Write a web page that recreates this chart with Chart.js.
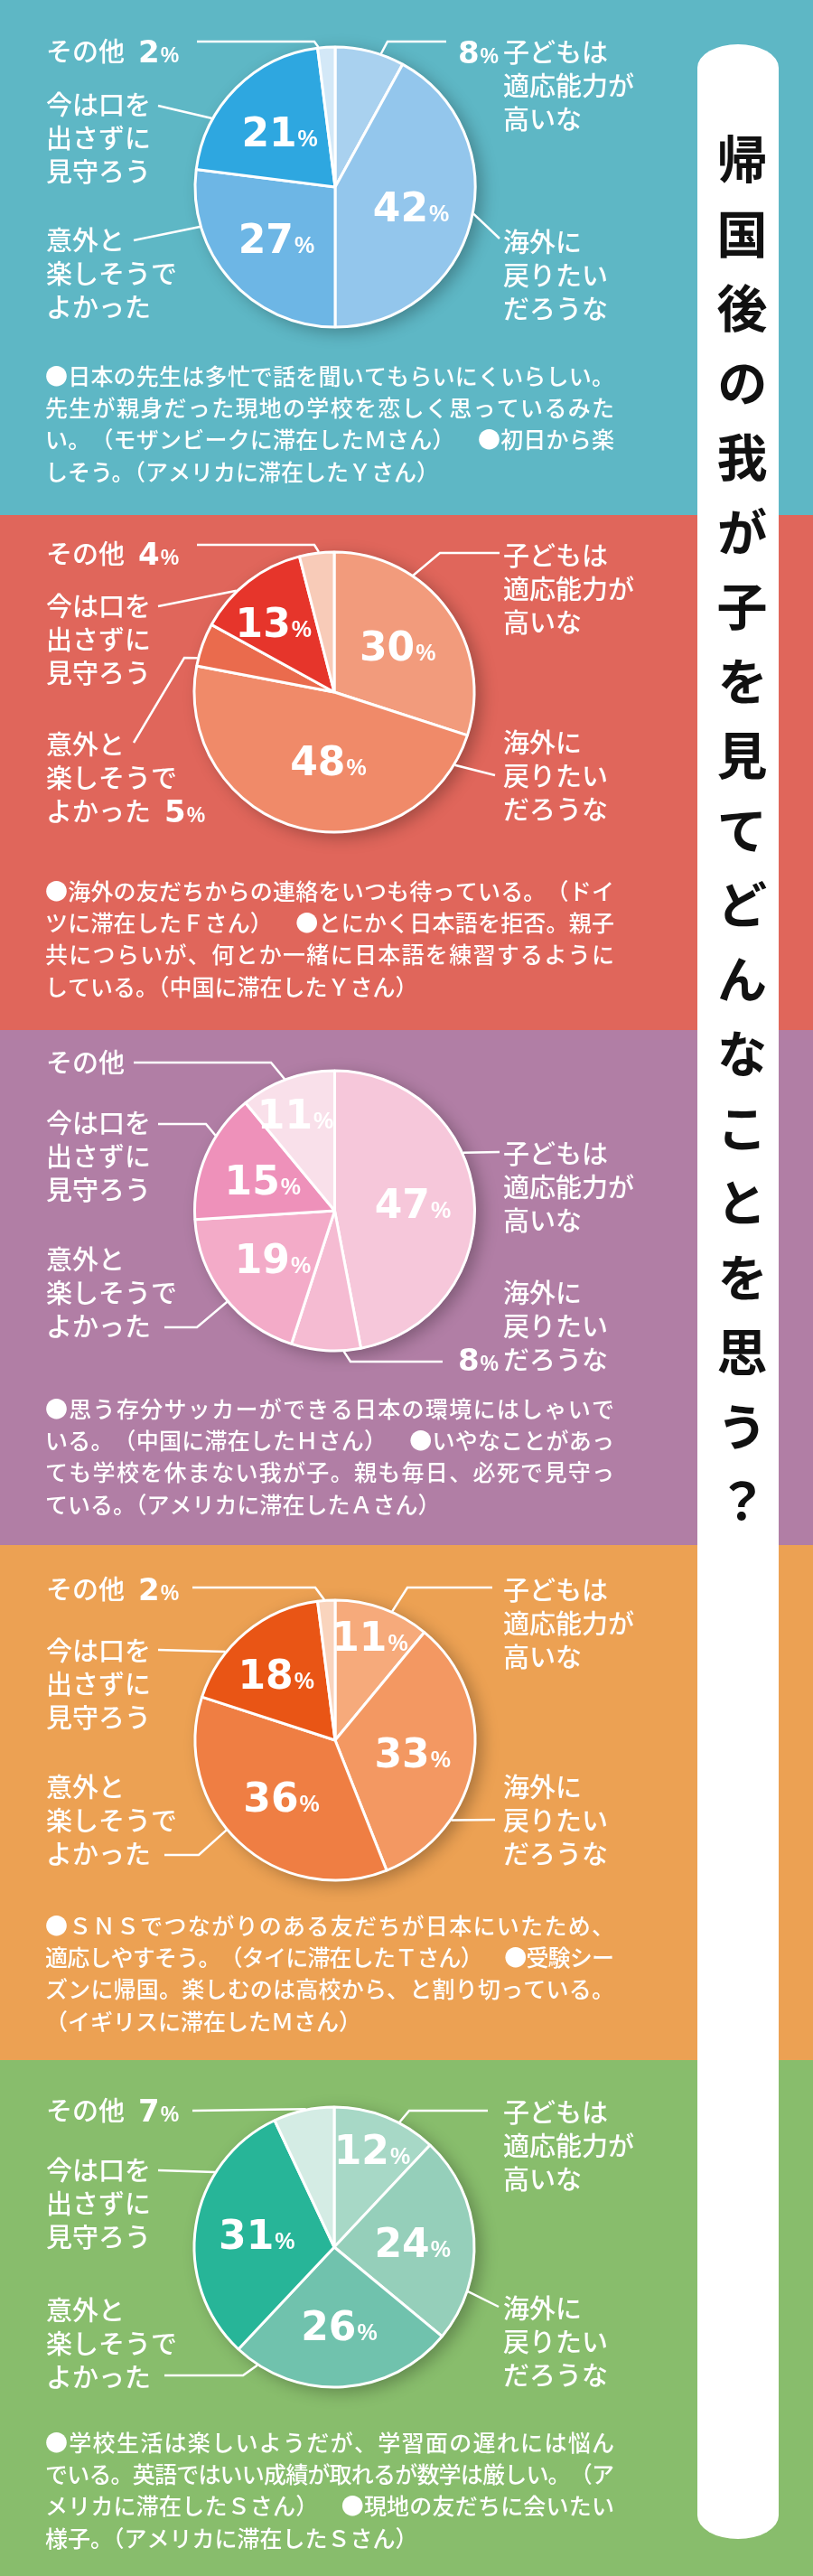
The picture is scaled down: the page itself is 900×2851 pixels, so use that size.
<!DOCTYPE html>
<html>
<head>
<meta charset="utf-8">
<script src="https://cdn.jsdelivr.net/npm/chart.js@4.4.1/dist/chart.umd.min.js"></script>
<style>
  body { margin: 0; width: 900px; height: 2851px; position: relative; overflow: hidden; }
  .panel { position: absolute; left: 0; width: 900px; }
  .panel canvas { position: absolute; left: 0; top: 0; }
  #title {
    position: absolute; left: 772px; top: 49px; width: 90px; height: 2761px;
    background: #fff; border-radius: 45px / 26px; box-sizing: border-box;
    padding-top: 99px; writing-mode: vertical-rl; line-height: 90px;
    font: bold 56px "Noto Sans CJK JP"; letter-spacing: 26.5px; color: #111;
  }
</style>
</head>
<body>
<div id="panels"></div>
<div id="title">帰国後の我が子を見てどんなことを思う？</div>
<script>
// categories, clockwise from 12 o'clock
const categoryLines = [
  ["子どもは", "適応能力が", "高いな"],
  ["海外に", "戻りたい", "だろうな"],
  ["意外と", "楽しそうで", "よかった"],
  ["今は口を", "出さずに", "見守ろう"],
  ["その他"]
];
const categories = categoryLines.map((l) => l.join(""));

// percentages per panel
const tealValues = [8, 42, 27, 21, 2];
const redValues = [30, 48, 5, 13, 4];
const purpleValues = [47, 8, 19, 15, 11];
const orangeValues = [11, 33, 36, 18, 2];
const greenValues = [12, 24, 26, 31, 7];

const tealComment = [
  "●日本の先生は多忙で話を聞いてもらいにくいらしい。",
  "先生が親身だった現地の学校を恋しく思っているみた",
  "い。（モザンビークに滞在したＭさん）　●初日から楽",
  "しそう。（アメリカに滞在したＹさん）"
];
const redComment = [
  "●海外の友だちからの連絡をいつも待っている。（ドイ",
  "ツに滞在したＦさん）　●とにかく日本語を拒否。親子",
  "共につらいが、何とか一緒に日本語を練習するように",
  "している。（中国に滞在したＹさん）"
];
const purpleComment = [
  "●思う存分サッカーができる日本の環境にはしゃいで",
  "いる。（中国に滞在したＨさん）　●いやなことがあっ",
  "ても学校を休まない我が子。親も毎日、必死で見守っ",
  "ている。（アメリカに滞在したＡさん）"
];
const orangeComment = [
  "●ＳＮＳでつながりのある友だちが日本にいたため、",
  "適応しやすそう。（タイに滞在したＴさん）　●受験シー",
  "ズンに帰国。楽しむのは高校から、と割り切っている。",
  "（イギリスに滞在したＭさん）"
];
const greenComment = [
  "●学校生活は楽しいようだが、学習面の遅れには悩ん",
  "でいる。英語ではいい成績が取れるが数学は厳しい。（ア",
  "メリカに滞在したＳさん）　●現地の友だちに会いたい",
  "様子。（アメリカに滞在したＳさん）"
];

// layout (positions inside each panel)
const panels = [
  {
    top: 0, height: 570, bg: "#5eb7c5", values: tealValues, comment: tealComment, commentY: 416,
    colors: ["#a9d1ef", "#93c6ec", "#6db6e5", "#2ea7e0", "#d3e8f7"],
    cx: 371, cy: 207,
    labels: [
      { x: 557, y: 58, pct: { line: 0, pos: "pre" }, leader: [[494, 46], [429, 46], [422, 59]] },
      { x: 557, y: 268, leader: [[553, 264], [526, 237]] },
      { x: 51, y: 266, leader: [[148, 266], [218, 252]] },
      { x: 51, y: 116, leader: [[175, 117], [233, 130]] },
      { x: 51, y: 57, pct: { line: 0, pos: "post" }, leader: [[218, 46], [348, 46], [353, 57]] }
    ],
    nudge: {}
  },
  {
    top: 570, height: 570, bg: "#e0665b", values: redValues, comment: redComment, commentY: 416,
    colors: ["#f29b7c", "#f08a69", "#ea6b4d", "#e6352b", "#f8cbb8"],
    cx: 370, cy: 196,
    labels: [
      { x: 557, y: 45, leader: [[553, 42], [487, 42], [458, 66]] },
      { x: 557, y: 252, leader: [[548, 288], [504, 277]] },
      { x: 51, y: 254, pct: { line: 2, pos: "post" }, leader: [[148, 252], [204, 158], [218, 158]] },
      { x: 51, y: 101, leader: [[175, 101], [262, 84]] },
      { x: 51, y: 43, pct: { line: 0, pos: "post" }, leader: [[218, 33], [348, 33], [353, 42]] }
    ],
    nudge: { 1: [15, -8], 3: [-14, -8] }
  },
  {
    top: 1140, height: 570, bg: "#b17ea5", values: purpleValues, comment: purpleComment, commentY: 419,
    colors: ["#f6c7da", "#f5bbd2", "#f3abc8", "#ee91ba", "#f9e0ea"],
    cx: 370.5, cy: 200,
    labels: [
      { x: 557, y: 137, leader: [[553, 135], [514, 135]] },
      { x: 557, y: 291, pct: { line: 2, pos: "pre" }, leader: [[490, 367], [388, 367], [380.5, 354]] },
      { x: 51, y: 254, leader: [[182, 329], [218, 329], [250, 302]] },
      { x: 51, y: 103, leader: [[175, 104], [228, 104], [237.5, 116]] },
      { x: 51, y: 36, leader: [[148, 36], [300, 36], [315, 54]] }
    ],
    nudge: { 4: [-14, -25] }
  },
  {
    top: 1710, height: 570, bg: "#eca153", values: orangeValues, comment: orangeComment, commentY: 421,
    colors: ["#f6aa7b", "#f39862", "#ef7e43", "#e95515", "#f9d4bd"],
    cx: 371, cy: 216,
    labels: [
      { x: 557, y: 50, leader: [[545, 47], [451, 47], [434, 74]] },
      { x: 557, y: 268, leader: [[548, 304], [499, 304]] },
      { x: 51, y: 268, leader: [[182, 343], [220, 343], [250, 316]] },
      { x: 51, y: 117, leader: [[175, 116], [247, 116]] },
      { x: 51, y: 49, pct: { line: 0, pos: "post" }, leader: [[213, 47], [349, 47], [359, 61]] }
    ],
    nudge: { 0: [9, -33], 3: [-10, -6] }
  },
  {
    top: 2280, height: 571, bg: "#88bd6c", values: greenValues, comment: greenComment, commentY: 423,
    colors: ["#a7d8c6", "#95cfba", "#70c2ad", "#27b598", "#d4ece4"],
    cx: 370, cy: 207,
    labels: [
      { x: 557, y: 58, leader: [[540, 56], [453, 56], [443.5, 66.5]] },
      { x: 557, y: 275, leader: [[552, 273], [521, 257]] },
      { x: 51, y: 277, leader: [[182, 349], [269, 349], [286, 336]] },
      { x: 51, y: 122, leader: [[175, 122], [235, 122]] },
      { x: 51, y: 56, pct: { line: 0, pos: "post" }, leader: [[213, 56], [339, 56]] }
    ],
    nudge: { 0: [10, -27] }
  }
];

const JP = "'Noto Sans CJK JP', sans-serif";
const RADIUS = 155;
const LINE_H = 37;

// draws "42%" style number; y is vertical middle of digits
function drawPct(ctx, value, x, y, big, small, align) {
  const num = String(value);
  ctx.textBaseline = "alphabetic";
  ctx.textAlign = "left";
  ctx.font = `bold ${big}px 'DejaVu Sans'`;
  const wn = ctx.measureText(num).width;
  ctx.font = `bold ${small}px 'Liberation Sans'`;
  const wp = ctx.measureText("%").width;
  const total = wn + wp + 1;
  let left = x;
  if (align === "center") left = x - total / 2;
  if (align === "right") left = x - total;
  const base = y + big * 0.729 / 2;
  ctx.font = `bold ${big}px 'DejaVu Sans'`;
  ctx.fillText(num, left, base);
  ctx.font = `bold ${small}px 'Liberation Sans'`;
  ctx.fillText("%", left + wn + 1, base);
  return total;
}

function drawJustified(ctx, text, x, y, width) {
  const chars = Array.from(text);
  const widths = chars.map((c) => ctx.measureText(c).width);
  const total = widths.reduce((a, b) => a + b, 0);
  const gap = (width - total) / (chars.length - 1);
  let cx = x;
  chars.forEach((c, i) => {
    ctx.fillText(c, cx, y);
    cx += widths[i] + gap;
  });
}

function labelPlugin(panel) {
  return {
    id: "pieLabels",
    beforeDatasetsDraw(chart) {
      const arc = chart.getDatasetMeta(0).data[0];
      const ctx = chart.ctx;
      ctx.save();
      ctx.beginPath();
      ctx.arc(arc.x, arc.y, arc.outerRadius + 1, 0, Math.PI * 2);
      ctx.fillStyle = panel.colors[1];
      ctx.shadowColor = "rgba(0,0,0,0.28)";
      ctx.shadowBlur = 18;
      ctx.shadowOffsetX = 7;
      ctx.shadowOffsetY = 5;
      ctx.fill();
      ctx.restore();
    },
    afterDatasetsDraw(chart) {
      const ctx = chart.ctx;
      const meta = chart.getDatasetMeta(0);
      const center = meta.data[0];
      const r = center.outerRadius;
      ctx.save();
      ctx.fillStyle = "#fff";
      ctx.strokeStyle = "#fff";

      // leader lines + category labels
      panel.labels.forEach((lab, i) => {
        const pts = lab.leader.map((p) => p.slice());
        const last = pts[pts.length - 1];
        const a = Math.atan2(last[1] - center.y, last[0] - center.x);
        pts[pts.length - 1] = [center.x + Math.cos(a) * (r + 1), center.y + Math.sin(a) * (r + 1)];
        ctx.lineWidth = 2.5;
        ctx.beginPath();
        pts.forEach((p, k) => (k ? ctx.lineTo(p[0], p[1]) : ctx.moveTo(p[0], p[1])));
        ctx.stroke();

        categoryLines[i].forEach((line, k) => {
          const ly = lab.y + k * LINE_H;
          ctx.font = `500 29px ${JP}`;
          ctx.textBaseline = "middle";
          ctx.textAlign = "left";
          ctx.fillText(line, lab.x, ly);
          if (lab.pct && lab.pct.line === k) {
            const v = panel.values[i];
            if (lab.pct.pos === "pre") {
              drawPct(ctx, v, lab.x - 5, ly, 34, 23, "right");
            } else {
              ctx.font = `500 29px ${JP}`;
              const w = ctx.measureText(line).width;
              drawPct(ctx, v, lab.x + w + 15, ly, 34, 23, "left");
            }
          }
        });
      });

      // percentages inside the slices
      meta.data.forEach((arc, i) => {
        const v = panel.values[i];
        if (v < 10) return;
        const mid = (arc.startAngle + arc.endAngle) / 2;
        const rr = arc.outerRadius * 0.56;
        const n = panel.nudge[i] || [0, 0];
        drawPct(ctx, v, arc.x + Math.cos(mid) * rr + n[0], arc.y + Math.sin(mid) * rr + n[1], 44, 25, "center");
      });

      // comment block
      ctx.font = `500 25px ${JP}`;
      ctx.textBaseline = "middle";
      ctx.textAlign = "left";
      panel.comment.forEach((line, k) => {
        const y = panel.commentY + k * 35.4;
        if (k < panel.comment.length - 1) drawJustified(ctx, line, 50, y, 630);
        else ctx.fillText(line, 50, y);
      });
      ctx.restore();
    }
  };
}

const holder = document.getElementById("panels");
panels.forEach((panel) => {
  const div = document.createElement("div");
  div.className = "panel";
  div.style.top = panel.top + "px";
  div.style.height = panel.height + "px";
  div.style.background = panel.bg;
  const canvas = document.createElement("canvas");
  canvas.width = 900;
  canvas.height = panel.height;
  div.appendChild(canvas);
  holder.appendChild(div);

  const half = RADIUS + 10;
  new Chart(canvas, {
    type: "pie",
    data: {
      labels: categories,
      datasets: [{
        data: panel.values,
        backgroundColor: panel.colors,
        borderColor: "#fff",
        borderWidth: 3,
        radius: RADIUS
      }]
    },
    options: {
      responsive: false,
      animation: false,
      devicePixelRatio: 1,
      events: [],
      layout: {
        padding: {
          left: panel.cx - half,
          right: 900 - panel.cx - half,
          top: panel.cy - half,
          bottom: panel.height - panel.cy - half
        }
      },
      plugins: {
        legend: { display: false },
        tooltip: { enabled: false }
      }
    },
    plugins: [labelPlugin(panel)]
  });
});
</script>
</body>
</html>
